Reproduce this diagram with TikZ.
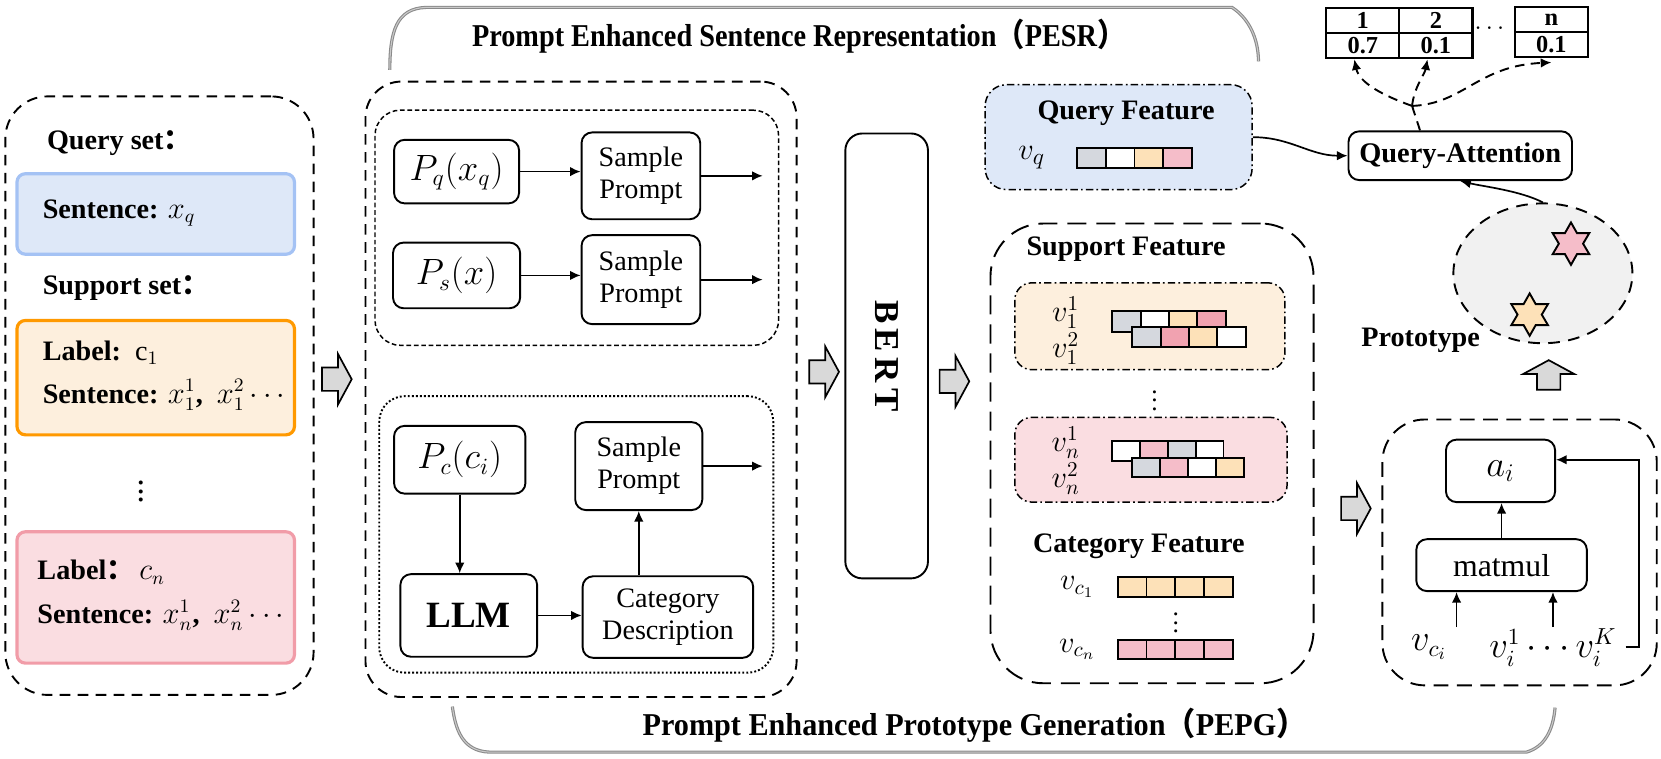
\documentclass[tikz,border=0pt]{standalone}
\usepackage{graphicx}
\usepackage{fontspec}
\setmainfont{Liberation Serif}
\newfontfamily\cjk{Noto Sans CJK SC}
\usetikzlibrary{shapes.geometric,calc,arrows.meta}
\definecolor{qblue}{HTML}{DEE8F8}
\definecolor{qblueb}{HTML}{A4C2F4}
\definecolor{oran}{HTML}{FDEFDD}
\definecolor{oranb}{HTML}{FF9900}
\definecolor{pnk}{HTML}{FADDE1}
\definecolor{pnkb}{HTML}{F19CA8}
\definecolor{gcell}{HTML}{D5D8DE}
\definecolor{peach}{HTML}{FDE1B8}
\definecolor{pinkL}{HTML}{F5BDC9}
\definecolor{pinkD}{HTML}{F1A2B0}
\definecolor{protog}{HTML}{F1F1F1}
\definecolor{arrg}{HTML}{D9D9D9}
\definecolor{brc}{HTML}{8A8A8A}
\tikzset{
  sz/.style 2 args={minimum width=#1*0.5pt, minimum height=#2*0.5pt, inner sep=0pt},
  lbl/.style={font=\fontsize{13.3}{16}\selectfont\bfseries, inner sep=0pt},
  ttl/.style={font=\fontsize{15}{18}\selectfont\bfseries, inner sep=0pt},
  mth/.style={font=\fontsize{14}{16}\selectfont, inner sep=0pt},
  box/.style={draw, line width=0.9pt, rounded corners=5pt, align=center, inner sep=0pt, font=\fontsize{13.3}{15}\selectfont},
  arr/.style={line width=0.8pt, -{Latex[length=5pt,width=4.5pt]}},
  dsh/.style={line width=0.9pt, dash pattern=on 4.5pt off 3pt, -{Latex[length=5pt,width=4.5pt]}},
  paneld/.style={draw, line width=0.9pt, dash pattern=on 5pt off 3.5pt},
  dashdot/.style={draw, line width=0.7pt, dash pattern=on 3.5pt off 1.5pt on 0.8pt off 1.5pt},
  cell/.style={draw, line width=0.9pt},
  colbox/.style={draw, line width=1.5pt, rounded corners=4pt, inner sep=0pt},
  brace/.style={draw=brc, line width=0.5pt, double=brc!45, double distance=0.5pt},
  garr/.pic={\draw[line width=0.8pt, fill=arrg] (-14,-11) -- (1,-11) -- (1,-24) -- (14,0) -- (1,24) -- (1,11) -- (-14,11) -- cycle;},
  hstar/.style={star, star points=6, star point ratio=1.75, draw, line width=0.9pt, minimum size=20pt, inner sep=0pt},
  tcell/.style={draw, line width=1pt, inner sep=0pt, minimum width=34.5pt, minimum height=11.75pt, font=\fontsize{11.5}{12}\selectfont\bfseries}
}
\begin{document}
\begin{tikzpicture}[x=0.5pt,y=-0.5pt]
\useasboundingbox (0,0) rectangle (1568,716);

% ---------------- left panel ----------------
\node[paneld, rounded corners=20pt, sz={291}{565}] (leftp) at (150.5,373.5) {};
\node[lbl, anchor=west] (qset) at (44,135) {Query set{\cjk ：}};
\node[colbox, draw=qblueb, fill=qblue, sz={262}{76}] (qbox) at (147,202) {};
\node[lbl, anchor=west] (qsent) at (40,201) {Sentence: $x_q$};
\node[lbl, anchor=west] (sset) at (40,272) {Support set{\cjk ：}};
\node[colbox, draw=oranb, fill=oran, sz={262}{108}] (obox) at (147,356.5) {};
\node[lbl, anchor=west] (olab) at (40,333) {Label:\ \ $\mathrm{c}_1$};
\node[lbl, anchor=west] (osent) at (40,373) {Sentence: $x_1^1$,\ \ $x_1^2\cdots$};
\node[inner sep=0pt, font=\fontsize{16}{16}\selectfont] (ldots) at (133,458) {$\vdots$};
\node[colbox, draw=pnkb, fill=pnk, sz={262}{124}] (pbox) at (147,564) {};
\node[lbl, anchor=west] (plab) at (35,540) {Label{\cjk ：}\,$c_n$};
\node[lbl, anchor=west] (psent) at (35,581) {Sentence: $x_n^1$,\ \ $x_n^2\cdots$};

% ---------------- block arrows ----------------
\pic (ga1) at (318,358) {garr};
\pic (ga2) at (778,351) {garr};
\pic (ga3) at (901,360) {garr};
\pic (ga4) at (1280,480) {garr};
\pic[rotate=90] (ga5) at (1462,354) {garr};

% ---------------- middle panel ----------------
\node[paneld, rounded corners=17pt, sz={407}{581}] (midp) at (548.5,367.5) {};
\node[draw, line width=0.7pt, dash pattern=on 2.2pt off 1.3pt, rounded corners=12pt, sz={381}{222}] (upin) at (544.5,215) {};
\node[draw, line width=0.9pt, densely dotted, rounded corners=12pt, sz={372}{261}] (loin) at (544,504.5) {};

\node[box, sz={118}{60}, font=\fontsize{16}{18}\selectfont] (pq) at (431,162) {$P_q(x_q)$};
\node[box, sz={112}{82}] (sp1) at (605,166) {Sample\\Prompt};
\node[box, sz={120}{62}, font=\fontsize{16}{18}\selectfont] (ps) at (431,260) {$P_s(x)$};
\node[box, sz={112}{84}] (sp2) at (605,264) {Sample\\Prompt};
\node[box, sz={124}{64}, font=\fontsize{16}{18}\selectfont] (pc) at (434,434) {$P_c(c_i)$};
\node[box, sz={120}{83}] (sp3) at (603,440) {Sample\\Prompt};
\node[box, sz={129}{78}, font=\fontsize{17.5}{20}\selectfont\bfseries] (llm) at (442.5,581) {LLM};
\node[box, sz={161}{77}] (cd) at (630.5,582.5) {Category\\Description};
\coordinate (outx) at (720,0);
\draw[arr] (pq.east) -- (pq.east -| sp1.west);
\draw[arr] (sp1.east) -- (sp1.east -| outx);
\draw[arr] (ps.east) -- (ps.east -| sp2.west);
\draw[arr] (sp2.east) -- (sp2.east -| outx);
\draw[arr] (pc.south) -- (pc.south |- llm.north);
\draw[arr] (llm.east) -- (llm.east -| cd.west);
\draw[arr] (sp3.south |- cd.north) -- (sp3.south);
\draw[arr] (sp3.east) -- (sp3.east -| outx);

% ---------------- BERT ----------------
\node[draw, line width=0.9pt, rounded corners=8pt, sz={78}{420}] (bert) at (837,336) {};
\node[rotate=-90, font=\fontsize{16.5}{18}\selectfont\bfseries, inner sep=0pt] (berttxt) at (bert.center) {B\hspace{2.5pt}E\hspace{2.5pt}R\hspace{2.5pt}T};

% ---------------- braces ----------------
\path[brace] (368,66) .. controls (368,30) and (374,8) .. (402,7) -- (1163,7) .. controls (1180,18) and (1188,38) .. (1188,58);
\node[ttl] (pesr) at (754,34) {\scalebox{0.89}[1]{Prompt Enhanced Sentence Representation{\cjk （}PESR{\cjk ）}}};
\path[brace] (427,667) .. controls (430,688) and (436,709) .. (462,710) -- (1441,710) .. controls (1458,705) and (1466,690) .. (1468,668);
\node[ttl] (pepg) at (920,685) {\scalebox{0.95}[1]{Prompt Enhanced Prototype Generation{\cjk （}PEPG{\cjk ）}}};

% ---------------- query feature ----------------
\node[dashdot, fill=qblue, rounded corners=10pt, sz={252}{99}] (qf) at (1056,129.5) {};
\node[lbl] (qft) at (1063,107) {Query Feature};
\node[mth, font=\fontsize{15}{18}\selectfont] (vq) at (974,149) {$v_q$};
\foreach \c [count=\i from 0] in {gcell,white,peach,pinkL}
  \draw[cell, fill=\c] (1017+27*\i,140) rectangle ++(27,19);

% ---------------- support panel ----------------
\node[draw, line width=0.9pt, dash pattern=on 9pt off 4.7pt, rounded corners=25pt, sz={305}{434}] (supp) at (1087.5,428) {};
\node[lbl] (sft) at (1063,235) {Support Feature};
\node[dashdot, fill=oran, rounded corners=8pt, sz={255}{82}] (sob) at (1085.5,308) {};
\node[mth] (v11) at (1006,295) {$v_1^1$};
\node[mth] (v12) at (1006,329) {$v_1^2$};
\foreach \c [count=\i from 0] in {gcell,white,peach,pinkD}
  \draw[cell, fill=\c] (1050+26.75*\i,294) rectangle ++(26.75,19);
\foreach \c [count=\i from 0] in {gcell,pinkD,peach,white}
  \draw[cell, fill=\c] (1069+26.75*\i,309) rectangle ++(26.75,18.5);
\node[inner sep=0pt, font=\fontsize{12}{12}\selectfont] (sdots) at (1090,372) {$\vdots$};
\node[dashdot, fill=pnk, rounded corners=8pt, sz={257}{80}] (spb) at (1086.5,434) {};
\node[mth] (vn1) at (1006,418) {$v_n^1$};
\node[mth] (vn2) at (1006,452) {$v_n^2$};
\foreach \c [count=\i from 0] in {white,pinkL,gcell,white}
  \draw[cell, fill=\c] (1050+26.25*\i,416) rectangle ++(26.25,19);
\foreach \c [count=\i from 0] in {gcell,pinkL,white,peach}
  \draw[cell, fill=\c] (1069+26.25*\i,432) rectangle ++(26.25,18.5);
\node[lbl] (cft) at (1075,516) {Category Feature};
\node[mth] (vc1) at (1017,554) {$v_{c_1}$};
\foreach \i in {0,1,2,3}
  \draw[cell, fill=peach] (1055+27.25*\i,545) rectangle ++(27.25,18.5);
\node[inner sep=0pt, font=\fontsize{12}{12}\selectfont] (cdots) at (1110,582) {$\vdots$};
\node[mth] (vcn) at (1017,613) {$v_{c_n}$};
\foreach \i in {0,1,2,3}
  \draw[cell, fill=pinkL] (1055+27.25*\i,604) rectangle ++(27.25,18.5);

% ---------------- right part ----------------
\node[box, sz={211}{46}, font=\fontsize{13.4}{16}\selectfont\bfseries] (qa) at (1378.5,147) {Query-Attention};
\node[ellipse, draw, line width=0.9pt, dash pattern=on 5.5pt off 4pt, fill=protog, sz={169}{132}] (proto) at (1456.5,258) {};
\node[hstar, fill=pinkL] (st1) at (1483,230) {};
\node[hstar, fill=peach] (st2) at (1444,297) {};
\node[lbl] (protot) at (1341,321) {Prototype};

\node[tcell] (c1t) at (1286.5,19.5) {1};
\node[tcell, minimum height=12pt] (c1b) at (1286.5,43) {0.7};
\node[tcell] (c2t) at (1355.5,19.5) {2};
\node[tcell, minimum height=12pt] (c2b) at (1355.5,43) {0.1};
\node[inner sep=0pt, font=\fontsize{13}{13}\selectfont] (tdots) at (1406,27) {$\cdots$};
\node[tcell] (cnt) at (1464.5,18.5) {n};
\node[tcell, minimum height=12pt] (cnb) at (1464.5,42) {0.1};

\draw[arr] (qf.east) to[out=0,in=180] (qa.west);
\draw[arr] (proto.north) .. controls (1435,180) and (1400,176) .. (qa.south);
\coordinate (jn) at (1333,100);
\draw[line width=0.9pt, dash pattern=on 4.5pt off 3pt] ([xshift=-19pt]qa.north) -- (jn);
\draw[dsh] (jn) .. controls (1305,90) and (1283,78) .. ([xshift=-4pt]c1b.south);
\draw[dsh] (jn) .. controls (1335,82) and (1345,70) .. ([xshift=-4pt]c2b.south);
\draw[dsh] (jn) .. controls (1382,98) and (1395,62) .. ([yshift=-2pt]cnb.south);

% ---------------- bottom-right panel ----------------
\node[draw, line width=0.9pt, dash pattern=on 7pt off 4pt, rounded corners=20pt, sz={259}{251}] (brp) at (1434.5,521.5) {};
\node[box, sz={103}{59}, font=\fontsize{17}{20}\selectfont] (ai) at (1416.5,444.5) {$a_i$};
\node[box, sz={161}{49}, font=\fontsize{15}{18}\selectfont] (mm) at (1417.5,533.5) {matmul};
\draw[arr] (mm.north) -- (mm.north |- ai.south);
\node[inner sep=0pt, font=\fontsize{16}{18}\selectfont] (vci) at (1349,611) {$v_{c_i}$};
\node[inner sep=0pt, font=\fontsize{16}{18}\selectfont] (vik) at (1466,611) {$v_i^1\cdots v_i^K$};
\coordinate (va) at (1375,592);
\coordinate (vb) at (1466,592);
\draw[arr] (va) -- (va |- mm.south);
\draw[arr] (vb) -- (vb |- mm.south);
\coordinate (fb) at (1547,434);
\draw[arr] ([xshift=4pt]vik.east) -| (fb) -- (fb -| ai.east);
\end{tikzpicture}
\end{document}
